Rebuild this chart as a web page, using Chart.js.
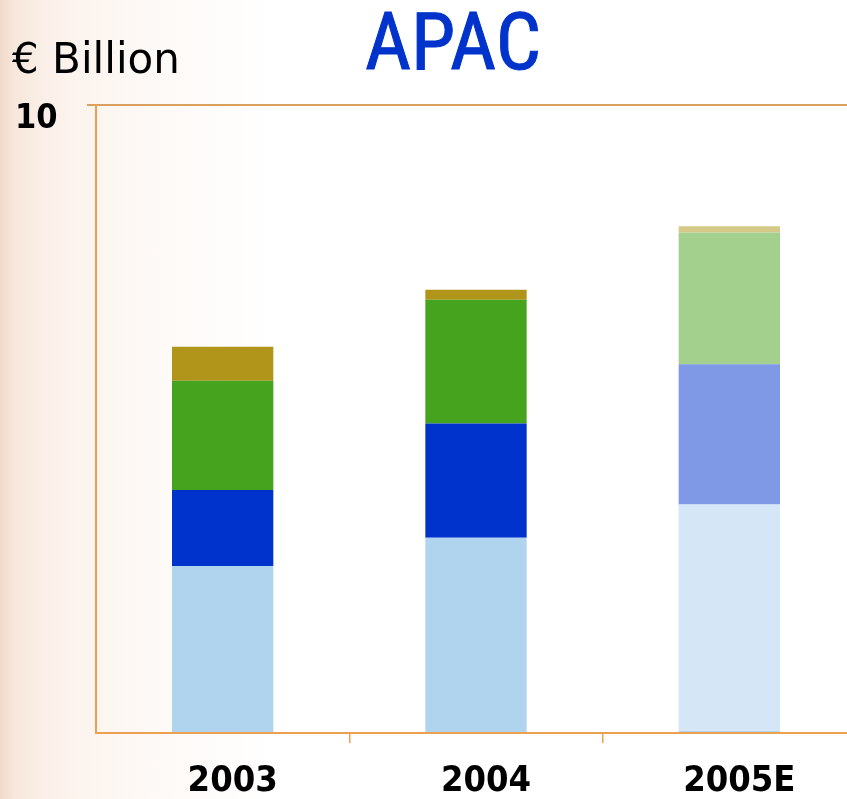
<!DOCTYPE html>
<html>
<head>
<meta charset="utf-8">
<script src="https://cdn.jsdelivr.net/npm/chart.js@4/dist/chart.umd.min.js"></script>
<style>
  html, body { margin: 0; padding: 0; width: 847px; height: 799px; overflow: hidden; }
  body {
    position: relative;
    background:
      linear-gradient(to right, #f1d9c9 0px, #f7e7dc 14px, #fbf1ea 50px, #fdf8f4 130px, #ffffff 280px);
  }
  #wrap { position: absolute; left: 0; top: 0; width: 856px; height: 799px; }
  #title { position: absolute; left: 0; top: -6px; width: 906px; text-align: center;
    font-family: "Liberation Sans Narrow", "Roboto Condensed", "DejaVu Sans Condensed", sans-serif;
    font-size: 80px; color: #0033cc; line-height: 96px; -webkit-text-stroke: 1px #0033cc; }
  #unit { position: absolute; left: 12px; top: 34px; font-family: "DejaVu Sans", sans-serif;
    font-size: 42px; color: #000; line-height: 50px; }
</style>
</head>
<body>
<div id="wrap"><canvas id="c" width="856" height="799"></canvas></div>
<div id="title">APAC</div>
<div id="unit">€ Billion</div>
<script>
const categories = ["2003", "2004", "2005E"];
const segA = [2.66, 3.11, 0.03];
const segB = [0, 0, 3.61];
const segC = [1.21, 1.82, 2.23];
const segD = [1.74, 1.97, 2.10];
const segE = [0.54, 0.16, 0.10];
const yTicks = [0, 10];

const AX = '#eba14f';
const colA = ['#b0d4ee', '#b0d4ee', '#b0d4ee'];
const colB = ['#d5e7f6', '#d5e7f6', '#d5e7f6'];
const colC = ['#0033cc', '#0033cc', '#7f99e6'];
const colD = ['#46a31e', '#46a31e', '#a3d08c'];
const colE = ['#b1951a', '#b1951a', '#d6c888'];

const mk = (data, colors) => ({ data, backgroundColor: colors, borderWidth: 0,
  barPercentage: 0.4, categoryPercentage: 1.0 });

new Chart(document.getElementById('c'), {
  type: 'bar',
  data: {
    labels: categories,
    datasets: [mk(segA, colA), mk(segB, colB), mk(segC, colC), mk(segD, colD), mk(segE, colE)]
  },
  options: {
    responsive: false,
    animation: false,
    layout: { padding: { left: 15, right: 0, top: 105, bottom: 0 } },
    plugins: { legend: { display: false }, tooltip: { enabled: false } },
    scales: {
      x: {
        stacked: true,
        afterFit: (s) => { s.height = 799 - 733; },
        border: { display: true, color: AX, width: 2 },
        grid: { offset: true, drawOnChartArea: false, tickLength: 10, lineWidth: 1.5,
          color: (ctx) => ctx.index === 0 ? 'rgba(0,0,0,0)' : AX },
        ticks: { color: '#000', padding: 17, labelOffset: 10,
          font: { family: '"DejaVu Sans Condensed", "DejaVu Sans", sans-serif', size: 36, weight: 'bold' } }
      },
      y: {
        stacked: true,
        min: 0, max: 10,
        afterBuildTicks: (s) => { s.ticks = yTicks.map(v => ({ value: v })); },
        afterFit: (s) => { s.width = 96 - 15; },
        border: { display: true, color: AX, width: 2 },
        grid: { drawOnChartArea: true, tickLength: 9, lineWidth: 2,
          color: (ctx) => (ctx.tick && ctx.tick.value === 10) ? '#d9a060' : 'rgba(0,0,0,0)' },
        ticks: { color: '#000', crossAlign: 'far', labelOffset: 14, padding: 4,
          callback: (v) => v === 10 ? '10' : '',
          font: { family: '"DejaVu Sans Condensed", "DejaVu Sans", sans-serif', size: 34, weight: 'bold' } }
      }
    }
  }
});
</script>
</body>
</html>
